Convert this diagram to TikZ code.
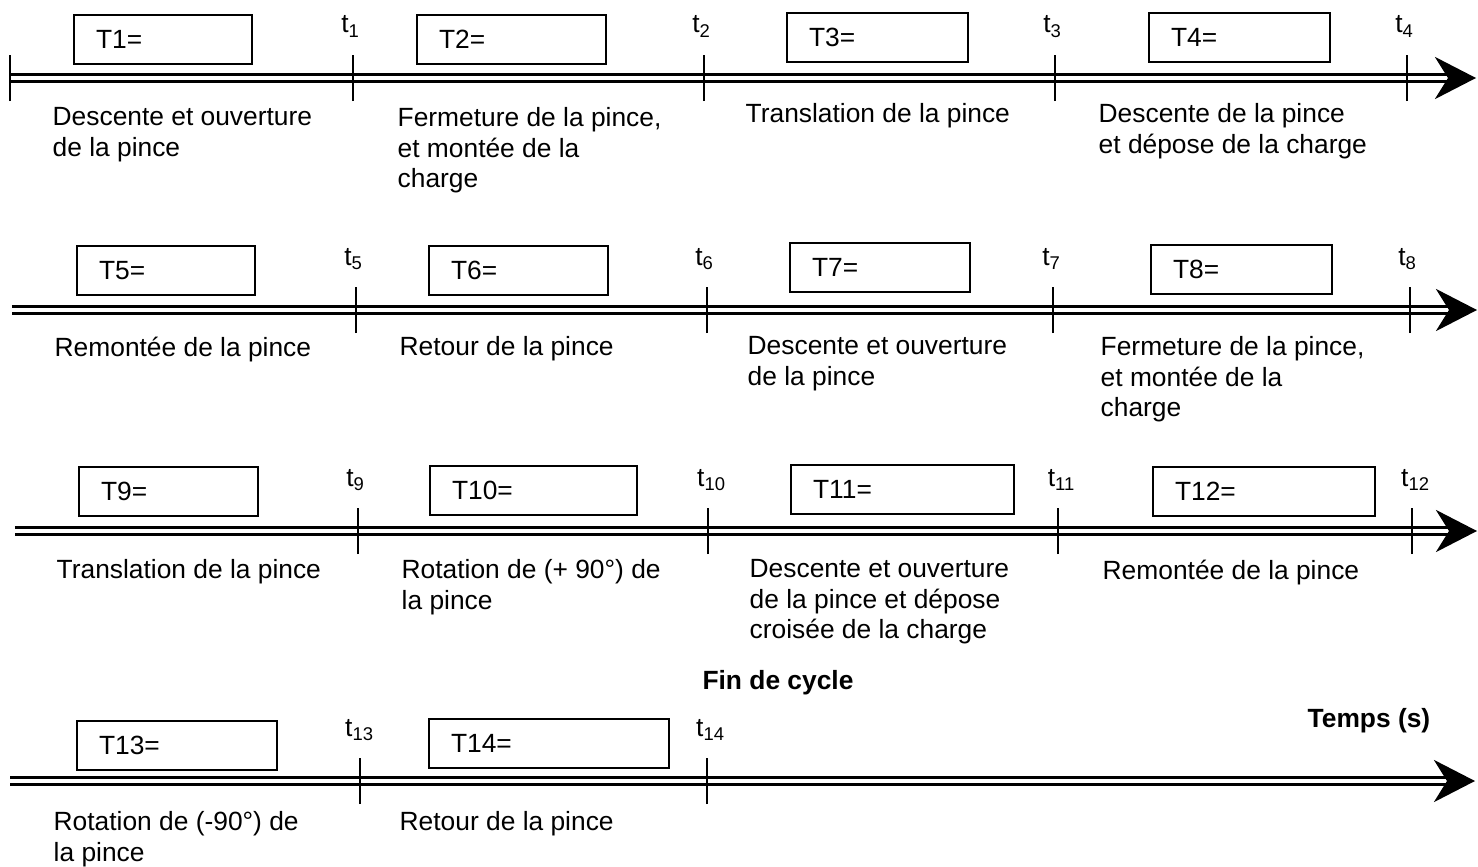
\documentclass[tikz,border=0pt]{standalone}
\usepackage{fontspec}
\setmainfont{Liberation Sans}
\usetikzlibrary{arrows.meta}
\begin{document}
\begin{tikzpicture}[
  every node/.style={font=\fontsize{7.5}{8.6}\selectfont},
  axe/.style={double,line width=1.1pt,double distance=0.9pt,-{Stealth[length=4.1mm,width=4.2mm,inset=1.3mm]}},
  tickmark/.style={line width=0.6pt},
  tbox/.style={draw,line width=0.6pt,anchor=north west,minimum height=0.49cm,inner xsep=0.22cm,align=left,text width=#1},
  desc/.style={anchor=north west,inner sep=0pt,align=left},
  tlab/.style={anchor=base,inner sep=0pt}]
  \useasboundingbox (0,0) rectangle (14.78,-8.66);
  \begin{scope}[yshift=-0.78cm]
    \coordinate (a1s) at (0.10,0);
    \coordinate (a1e) at (14.76,0);
    \draw[axe] (a1s) -- (a1e);
    \draw[tickmark] (a1s) ++(0,-0.23) -- ++(0,0.46);
    \coordinate (t1) at (3.53,0);
    \coordinate (t2) at (7.04,0);
    \coordinate (t3) at (10.55,0);
    \coordinate (t4) at (14.07,0);
    \draw[tickmark] (t1) ++(0,-0.23) -- ++(0,0.46);
    \draw[tickmark] (t2) ++(0,-0.23) -- ++(0,0.46);
    \draw[tickmark] (t3) ++(0,-0.23) -- ++(0,0.46);
    \draw[tickmark] (t4) ++(0,-0.23) -- ++(0,0.46);
    \node[tlab] (l1) at (3.51,0.45) {t\textsubscript{1}};
    \node[tlab] (l2) at (7.02,0.45) {t\textsubscript{2}};
    \node[tlab] (l3) at (10.53,0.45) {t\textsubscript{3}};
    \node[tlab] (l4) at (14.05,0.45) {t\textsubscript{4}};
    \node[tbox=1.34cm] (b1) at (0.73,0.64) {T1=};
    \node[tbox=1.45cm] (b2) at (4.16,0.64) {T2=};
    \node[tbox=1.37cm] (b3) at (7.86,0.66) {T3=};
    \node[tbox=1.37cm] (b4) at (11.48,0.66) {T4=};
    \node[desc] (d1) at (0.52,-0.29) {Descente et ouverture\\de la pince};
    \node[desc] (d2) at (3.97,-0.29) {Fermeture de la pince,\\et montée de la\\charge};
    \node[desc] (d3) at (7.45,-0.25) {Translation de la pince};
    \node[desc] (d4) at (10.98,-0.25) {Descente de la pince\\et dépose de la charge};
  \end{scope}
  \begin{scope}[yshift=-3.10cm]
    \coordinate (a2s) at (0.12,0);
    \coordinate (a2e) at (14.77,0);
    \draw[axe] (a2s) -- (a2e);
    \coordinate (t5) at (3.56,0);
    \coordinate (t6) at (7.07,0);
    \coordinate (t7) at (10.53,0);
    \coordinate (t8) at (14.10,0);
    \draw[tickmark] (t5) ++(0,-0.23) -- ++(0,0.46);
    \draw[tickmark] (t6) ++(0,-0.23) -- ++(0,0.46);
    \draw[tickmark] (t7) ++(0,-0.23) -- ++(0,0.46);
    \draw[tickmark] (t8) ++(0,-0.23) -- ++(0,0.46);
    \node[tlab] (l5) at (3.54,0.45) {t\textsubscript{5}};
    \node[tlab] (l6) at (7.05,0.45) {t\textsubscript{6}};
    \node[tlab] (l7) at (10.52,0.45) {t\textsubscript{7}};
    \node[tlab] (l8) at (14.08,0.45) {t\textsubscript{8}};
    \node[tbox=1.34cm] (b5) at (0.76,0.65) {T5=};
    \node[tbox=1.35cm] (b6) at (4.28,0.65) {T6=};
    \node[tbox=1.36cm] (b7) at (7.89,0.68) {T7=};
    \node[tbox=1.37cm] (b8) at (11.50,0.66) {T8=};
    \node[desc] (d5) at (0.54,-0.26) {Remontée de la pince};
    \node[desc] (d6) at (3.99,-0.26) {Retour de la pince};
    \node[desc] (d7) at (7.47,-0.26) {Descente et ouverture\\de la pince};
    \node[desc] (d8) at (11.00,-0.26) {Fermeture de la pince,\\et montée de la\\charge};
  \end{scope}
  \begin{scope}[yshift=-5.31cm]
    \coordinate (a3s) at (0.15,0);
    \coordinate (a3e) at (14.77,0);
    \draw[axe] (a3s) -- (a3e);
    \coordinate (t9) at (3.58,0);
    \coordinate (t10) at (7.08,0);
    \coordinate (t11) at (10.58,0);
    \coordinate (t12) at (14.12,0);
    \draw[tickmark] (t9) ++(0,-0.23) -- ++(0,0.46);
    \draw[tickmark] (t10) ++(0,-0.23) -- ++(0,0.46);
    \draw[tickmark] (t11) ++(0,-0.23) -- ++(0,0.46);
    \draw[tickmark] (t12) ++(0,-0.23) -- ++(0,0.46);
    \node[tlab] (l9) at (3.56,0.45) {t\textsubscript{9}};
    \node[tlab] (l10) at (7.12,0.45) {t\textsubscript{10}};
    \node[tlab] (l11) at (10.62,0.45) {t\textsubscript{11}};
    \node[tlab] (l12) at (14.16,0.45) {t\textsubscript{12}};
    \node[tbox=1.35cm] (b9) at (0.78,0.65) {T9=};
    \node[tbox=1.63cm] (b10) at (4.29,0.66) {T10=};
    \node[tbox=1.79cm] (b11) at (7.90,0.67) {T11=};
    \node[tbox=1.78cm] (b12) at (11.52,0.65) {T12=};
    \node[desc] (d9) at (0.56,-0.28) {Translation de la pince};
    \node[desc] (d10) at (4.01,-0.28) {Rotation de (+ 90°) de\\la pince};
    \node[desc] (d11) at (7.49,-0.28) {Descente et ouverture\\de la pince et dépose\\croisée de la charge};
    \node[desc] (d12) at (11.02,-0.28) {Remontée de la pince};
  \end{scope}
  \node (fin) at (7.78,-6.83) {\bfseries Fin de cycle};
  \node (temps) at (13.69,-7.21) {\bfseries Temps (s)};
  \begin{scope}[yshift=-7.81cm]
    \coordinate (a4s) at (0.10,0);
    \coordinate (a4e) at (14.75,0);
    \draw[axe] (a4s) -- (a4e);
    \coordinate (t13) at (3.60,0);
    \coordinate (t14) at (7.07,0);
    \draw[tickmark] (t13) ++(0,-0.23) -- ++(0,0.46);
    \draw[tickmark] (t14) ++(0,-0.23) -- ++(0,0.46);
    \node[tlab] (l13) at (3.60,0.45) {t\textsubscript{13}};
    \node[tlab] (l14) at (7.11,0.45) {t\textsubscript{14}};
    \node[tbox=1.56cm] (b13) at (0.76,0.61) {T13=};
    \node[tbox=1.96cm] (b14) at (4.28,0.63) {T14=};
    \node[desc] (d13) at (0.53,-0.30) {Rotation de (-90°) de\\la pince};
    \node[desc] (d14) at (3.99,-0.30) {Retour de la pince};
  \end{scope}
\end{tikzpicture}
\end{document}
